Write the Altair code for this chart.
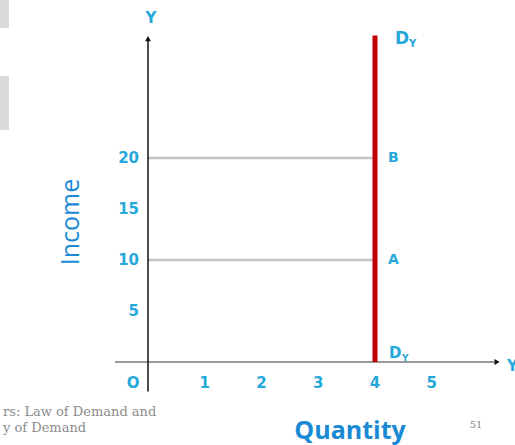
import altair as alt
import pandas as pd

# Perfectly inelastic income demand: quantity stays at 4 whatever the income
y_tick_values = [5, 10, 15, 20]
x_tick_values = [1, 2, 3, 4, 5]
origin_label = "O"
demand_quantity = 4
income_levels = [10, 20]
income_point_labels = ["A", "B"]
curve_top_income = 32.0
footer_lines = ["rs: Law of Demand and", "y of Demand"]
page_number = "51"

W, H = 515, 445
# scale domains chosen so the plot fills the page with the origin near (148, 362)
XDOM = [-148 / 56.75, (W - 148) / 56.75]
YDOM = [-(H - 362) / 10.2, 362 / 10.2]
xs = alt.Scale(domain=XDOM, nice=False, zero=False)
ys = alt.Scale(domain=YDOM, nice=False, zero=False)
page_y = alt.Scale(domain=[0, H], range=[0, H], nice=False, zero=False)

BLUE = "#25a8da"
DARK_BLUE = "#1a8ad4"
RED = "#c00000"
TICK_FONT = "DejaVu Sans"

def X(field="x", **kw):
    return alt.X(field, type="quantitative", scale=xs, axis=None, **kw)

def Y(field="y", **kw):
    return alt.Y(field, type="quantitative", scale=ys, axis=None, **kw)

one = pd.DataFrame({"k": [0]})

# slide decoration at the top-left corner
deco = pd.DataFrame({"y0": [0, 76], "y1": [28, 130]})
decoration = alt.Chart(deco).mark_rect(color="#dadada").encode(
    x=alt.value(0), x2=alt.value(9),
    y=alt.Y("y0:Q", scale=page_y, axis=None),
    y2="y1:Q",
)

# guide lines at the income levels, running from the income axis to the curve
guides_df = pd.DataFrame({"y": income_levels, "x": [0] * 2, "x2": [demand_quantity] * 2})
guides = alt.Chart(guides_df).mark_rule(color="#c3c3c3", strokeWidth=2.5).encode(
    x=X(), x2="x2", y=Y()
)

# axes
x_axis_df = pd.DataFrame({"x": [-0.58], "x2": [6.1], "y": [0]})
x_axis = alt.Chart(x_axis_df).mark_rule(color="#9a9a9a", strokeWidth=2).encode(
    x=X(), x2="x2", y=Y()
)
y_axis_df = pd.DataFrame({"x": [0], "y": [-2.9], "y2": [31.6]})
y_axis = alt.Chart(y_axis_df).mark_rule(color="#111111", strokeWidth=1.5).encode(
    x=X(), y=Y(), y2="y2"
)
arrow_up = alt.Chart(pd.DataFrame({"x": [0], "y": [31.7]})).mark_point(
    shape="triangle-up", filled=True, color="#111111", size=35, opacity=1
).encode(x=X(), y=Y())
arrow_right = alt.Chart(pd.DataFrame({"x": [6.15], "y": [0]})).mark_point(
    shape="triangle-right", filled=True, color="#111111", size=35, opacity=1
).encode(x=X(), y=Y())

# the demand curve
curve_df = pd.DataFrame({"x": [demand_quantity], "y": [0], "y2": [curve_top_income]})
curve = alt.Chart(curve_df).mark_rule(color=RED, strokeWidth=5).encode(
    x=X(), y=Y(), y2="y2"
)

# tick labels
ytl_df = pd.DataFrame({"y": y_tick_values, "t": [str(v) for v in y_tick_values]})
y_tick_text = alt.Chart(ytl_df).mark_text(
    align="right", baseline="middle", font=TICK_FONT, fontSize=15, fontWeight="bold", color=BLUE
).encode(x=alt.value(139), y=Y(), text="t:N")

xtl_df = pd.DataFrame({"x": x_tick_values, "t": [str(v) for v in x_tick_values]})
x_tick_text = alt.Chart(xtl_df).mark_text(
    align="center", baseline="middle", font=TICK_FONT, fontSize=15, fontWeight="bold", color=BLUE, dy=21
).encode(x=X(), y=alt.value(362), text="t:N")
origin_text = alt.Chart(pd.DataFrame({"x": [0]})).mark_text(
    align="center", baseline="middle", font=TICK_FONT, fontSize=15, fontWeight="bold", color=BLUE,
    dx=-15, dy=21
).encode(x=X(), y=alt.value(362), text=alt.value(origin_label))

# point labels on the curve
pts_df = pd.DataFrame({"x": [demand_quantity] * 2, "y": income_levels, "t": income_point_labels})
point_text = alt.Chart(pts_df).mark_text(
    align="left", baseline="middle", font=TICK_FONT, fontSize=14, fontWeight="bold", color=BLUE, dx=13
).encode(x=X(), y=Y(), text="t:N")

dy_df = pd.DataFrame({"x": [demand_quantity] * 2, "y": [curve_top_income, 0]})
dy_top = alt.Chart(dy_df.iloc[[0]]).mark_text(
    align="left", baseline="middle", font=TICK_FONT, fontSize=17, fontWeight="bold", color=BLUE, dx=20, dy=3
).encode(x=X(), y=Y(), text=alt.value("D"))
dy_top_sub = alt.Chart(dy_df.iloc[[0]]).mark_text(
    align="left", baseline="middle", font=TICK_FONT, fontSize=10, fontWeight="bold", color=BLUE, dx=34, dy=8
).encode(x=X(), y=Y(), text=alt.value("Y"))
dy_bot = alt.Chart(dy_df.iloc[[1]]).mark_text(
    align="left", baseline="middle", font=TICK_FONT, fontSize=15, fontWeight="bold", color=BLUE, dx=14, dy=-9
).encode(x=X(), y=Y(), text=alt.value("D"))
dy_bot_sub = alt.Chart(dy_df.iloc[[1]]).mark_text(
    align="left", baseline="middle", font=TICK_FONT, fontSize=9, fontWeight="bold", color=BLUE, dx=27, dy=-4
).encode(x=X(), y=Y(), text=alt.value("Y"))

# axis letters
y_letter = alt.Chart(one).mark_text(
    font=TICK_FONT, fontSize=15, fontWeight="bold", color=BLUE, align="center", baseline="middle"
).encode(x=alt.value(151), y=alt.value(18), text=alt.value("Y"))
x_letter = alt.Chart(one).mark_text(
    font=TICK_FONT, fontSize=15, fontWeight="bold", color=BLUE, align="left", baseline="middle"
).encode(x=alt.value(507), y=alt.value(366), text=alt.value("Y"))

# axis titles
income_title = alt.Chart(one).mark_text(
    font="Open Sans", fontSize=25, color=DARK_BLUE, angle=270, align="center", baseline="middle"
).encode(x=alt.value(71), y=alt.value(222), text=alt.value("Income"))
quantity_title = alt.Chart(one).mark_text(
    font="Open Sans", fontSize=25, fontWeight="bold", color=DARK_BLUE, align="center", baseline="middle"
).encode(x=alt.value(350), y=alt.value(431), text=alt.value("Quantity"))

# slide footer
footer_df = pd.DataFrame({"t": footer_lines, "py": [412, 428]})
footer = alt.Chart(footer_df).mark_text(
    font="DejaVu Serif", fontSize=13, color="#8c8c8c", align="left", baseline="middle"
).encode(
    x=alt.value(3),
    y=alt.Y("py:Q", scale=page_y, axis=None),
    text="t:N",
)
page = alt.Chart(one).mark_text(
    font="DejaVu Serif", fontSize=10, color="#8a8a8a", align="center", baseline="middle"
).encode(x=alt.value(476), y=alt.value(425), text=alt.value(page_number))

main = alt.layer(
    guides, x_axis, y_axis, arrow_up, arrow_right, curve,
    y_tick_text, x_tick_text, origin_text, point_text, dy_top, dy_top_sub, dy_bot, dy_bot_sub,
    y_letter, x_letter, income_title, quantity_title, page,
)
extra = alt.layer(decoration, footer)

chart = alt.layer(main, extra).resolve_scale(y="independent").properties(
    width=W, height=H, padding=0, autosize=alt.AutoSizeParams(type="none"),
    background="white",
).configure_view(stroke=None)

chart.save("out.html", embed_options={"renderer": "svg", "actions": False})
